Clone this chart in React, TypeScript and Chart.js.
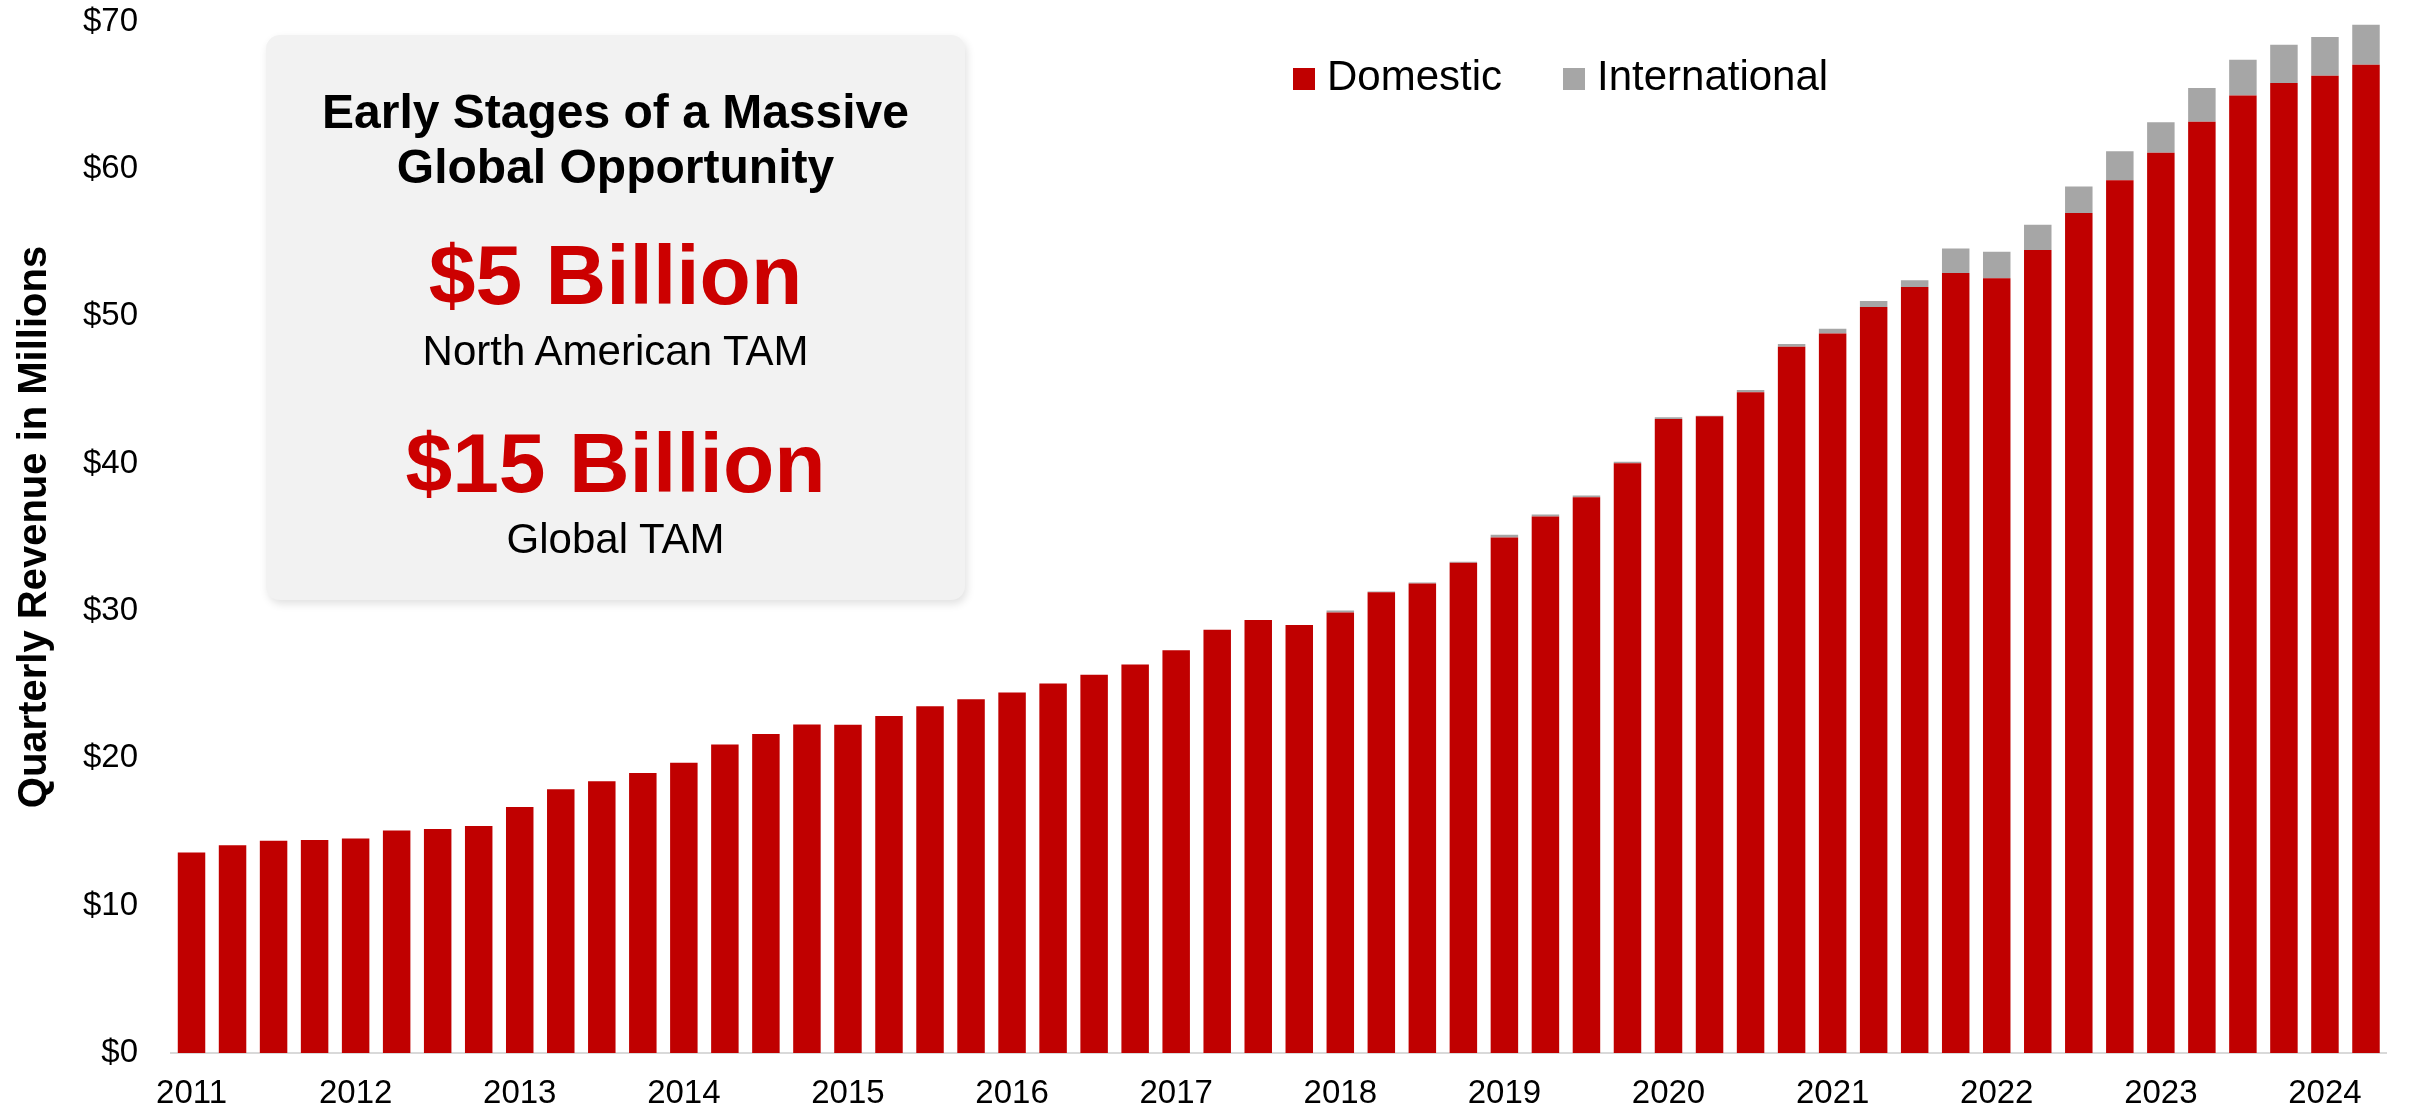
import React, { useEffect, useRef } from 'react';
import { Chart, registerables } from 'chart.js';

Chart.register(...registerables);

const FONT = '"Liberation Sans", Arial, Helvetica, sans-serif';

const categories = [
  '2011 Q1', '2011 Q2', '2011 Q3', '2011 Q4',
  '2012 Q1', '2012 Q2', '2012 Q3', '2012 Q4',
  '2013 Q1', '2013 Q2', '2013 Q3', '2013 Q4',
  '2014 Q1', '2014 Q2', '2014 Q3', '2014 Q4',
  '2015 Q1', '2015 Q2', '2015 Q3', '2015 Q4',
  '2016 Q1', '2016 Q2', '2016 Q3', '2016 Q4',
  '2017 Q1', '2017 Q2', '2017 Q3', '2017 Q4',
  '2018 Q1', '2018 Q2', '2018 Q3', '2018 Q4',
  '2019 Q1', '2019 Q2', '2019 Q3', '2019 Q4',
  '2020 Q1', '2020 Q2', '2020 Q3', '2020 Q4',
  '2021 Q1', '2021 Q2', '2021 Q3', '2021 Q4',
  '2022 Q1', '2022 Q2', '2022 Q3', '2022 Q4',
  '2023 Q1', '2023 Q2', '2023 Q3', '2023 Q4',
  '2024 Q1', '2024 Q2',
];

const yearLabels = [
  '2011', '2012', '2013', '2014', '2015', '2016', '2017',
  '2018', '2019', '2020', '2021', '2022', '2023', '2024',
];

const domestic = [
  13.6, 14.1, 14.4, 14.45,
  14.55, 15.1, 15.2, 15.4,
  16.7, 17.9, 18.45, 19.0,
  19.7, 20.93, 21.64, 22.3,
  22.27, 22.87, 23.53, 24.01,
  24.47, 25.07, 25.67, 26.36,
  27.33, 28.73, 29.39, 29.05,
  29.9, 31.27, 31.86, 33.27,
  34.98, 36.41, 37.72, 40.02,
  43.03, 43.21, 44.84, 47.93,
  48.83, 50.62, 51.99, 52.93,
  52.57, 54.5, 57.01, 59.22,
  61.1, 63.19, 64.98, 65.82,
  66.31, 67.06,
];

const international = [
  0, 0, 0, 0,
  0, 0, 0, 0,
  0, 0, 0, 0,
  0, 0, 0, 0,
  0, 0, 0, 0,
  0, 0, 0, 0,
  0, 0, 0, 0,
  0.13, 0.05, 0.07, 0.06,
  0.19, 0.13, 0.11, 0.1,
  0.11, 0.04, 0.16, 0.18,
  0.32, 0.41, 0.45, 1.66,
  1.81, 1.7, 1.79, 1.97,
  2.06, 2.3, 2.42, 2.6,
  2.63, 2.72,
];

const seriesNames = ['Domestic', 'International'];
const seriesColors = ['#C00000', '#A6A6A6'];
const yAxisTitle = 'Quarterly Revenue in Millions';

const calloutTitle = ['Early Stages of a Massive', 'Global Opportunity'];
const calloutFigures = ['$5 Billion', '$15 Billion'];
const calloutCaptions = ['North American TAM', 'Global TAM'];

export default function App() {
  const canvasRef = useRef<HTMLCanvasElement>(null);

  useEffect(() => {
    if (!canvasRef.current) return;
    const yTitlePlugin = {
      id: 'yTitlePlugin',
      afterDraw(chart: any) {
        const ctx = chart.ctx;
        ctx.save();
        ctx.font = `bold 40px ${FONT}`;
        ctx.fillStyle = '#000000';
        ctx.textAlign = 'center';
        ctx.textBaseline = 'alphabetic';
        ctx.translate(46, 527);
        ctx.rotate(-Math.PI / 2);
        ctx.fillText(yAxisTitle, 0, 0);
        ctx.restore();
      },
    };

    const chart = new Chart(canvasRef.current, {
      type: 'bar',
      data: {
        labels: categories,
        datasets: [
          {
            label: seriesNames[0],
            data: domestic,
            backgroundColor: seriesColors[0],
            borderWidth: 0,
            barPercentage: 0.67,
            categoryPercentage: 1,
            stack: 'rev',
          },
          {
            label: seriesNames[1],
            data: international,
            backgroundColor: seriesColors[1],
            borderWidth: 0,
            barPercentage: 0.67,
            categoryPercentage: 1,
            stack: 'rev',
          },
        ],
      },
      options: {
        animation: false,
        responsive: true,
        maintainAspectRatio: false,
        layout: { padding: { top: 21.5, right: 26.5, left: 0, bottom: 0 } },
        plugins: {
          legend: { display: false },
          tooltip: { enabled: false },
        },
        scales: {
          x: {
            stacked: true,
            grid: { display: false, drawTicks: false },
            border: { display: true, color: '#D9D9D9', width: 2 },
            ticks: {
              autoSkip: false,
              maxRotation: 0,
              minRotation: 0,
              padding: 21,
              color: '#000000',
              font: { family: FONT, size: 33 },
              callback: (_v: any, i: number) => (i % 4 === 0 ? yearLabels[i / 4] : ''),
            },
            afterFit: (s: any) => {
              s.height = 58;
            },
          },
          y: {
            stacked: true,
            min: 0,
            max: 70,
            grid: { display: false, drawTicks: false },
            border: { display: false },
            ticks: {
              stepSize: 10,
              padding: 33,
              color: '#000000',
              font: { family: FONT, size: 33 },
              callback: (v: any) => '$' + v,
            },
            afterFit: (s: any) => {
              s.width = 171;
              s.paddingTop = 0;
              s.paddingBottom = 0;
            },
          },
        },
      },
      plugins: [yTitlePlugin],
    });
    return () => chart.destroy();
  }, []);

  const boxTop = 35;
  const line = (text: string, top: number, size: number, bold: boolean, color: string) => (
    <div
      key={text}
      style={{
        position: 'absolute',
        left: 0,
        width: '100%',
        top: top - boxTop,
        fontSize: size,
        lineHeight: `${size}px`,
        fontWeight: bold ? 700 : 400,
        color,
        textAlign: 'center',
        whiteSpace: 'nowrap',
        fontFamily: FONT,
      }}
    >
      {text}
    </div>
  );

  const legendText = (left: number, text: string) => (
    <div
      style={{
        position: 'absolute',
        left,
        top: 54.5,
        fontSize: 42,
        lineHeight: '42px',
        fontFamily: FONT,
        color: '#000',
        whiteSpace: 'nowrap',
      }}
    >
      {text}
    </div>
  );

  return (
    <div
      style={{
        position: 'fixed',
        left: 0,
        top: 0,
        width: 2413,
        height: 1111,
        background: '#FFFFFF',
        overflow: 'hidden',
      }}
    >
      <div style={{ position: 'absolute', left: 0, top: 0, width: 2413, height: 1111 }}>
        <canvas ref={canvasRef} />
      </div>
      <div
        style={{
          position: 'absolute',
          left: 266,
          top: boxTop,
          width: 699,
          height: 565,
          background: '#F2F2F2',
          borderRadius: 14,
          boxShadow: '2px 4px 8px rgba(0,0,0,0.12)',
        }}
      >
        {line(calloutTitle[0], 87.5, 48, true, '#000000')}
        {line(calloutTitle[1], 142.5, 48, true, '#000000')}
        {line(calloutFigures[0], 233, 84, true, '#CC0000')}
        {line(calloutCaptions[0], 329.5, 42, false, '#000000')}
        {line(calloutFigures[1], 421, 84, true, '#CC0000')}
        {line(calloutCaptions[1], 517.5, 42, false, '#000000')}
      </div>
      {/* legend */}
      <div style={{ position: 'absolute', left: 1293, top: 68, width: 22, height: 22, background: seriesColors[0] }} />
      {legendText(1327, seriesNames[0])}
      <div style={{ position: 'absolute', left: 1563, top: 68, width: 22, height: 22, background: seriesColors[1] }} />
      {legendText(1597, seriesNames[1])}
    </div>
  );
}
